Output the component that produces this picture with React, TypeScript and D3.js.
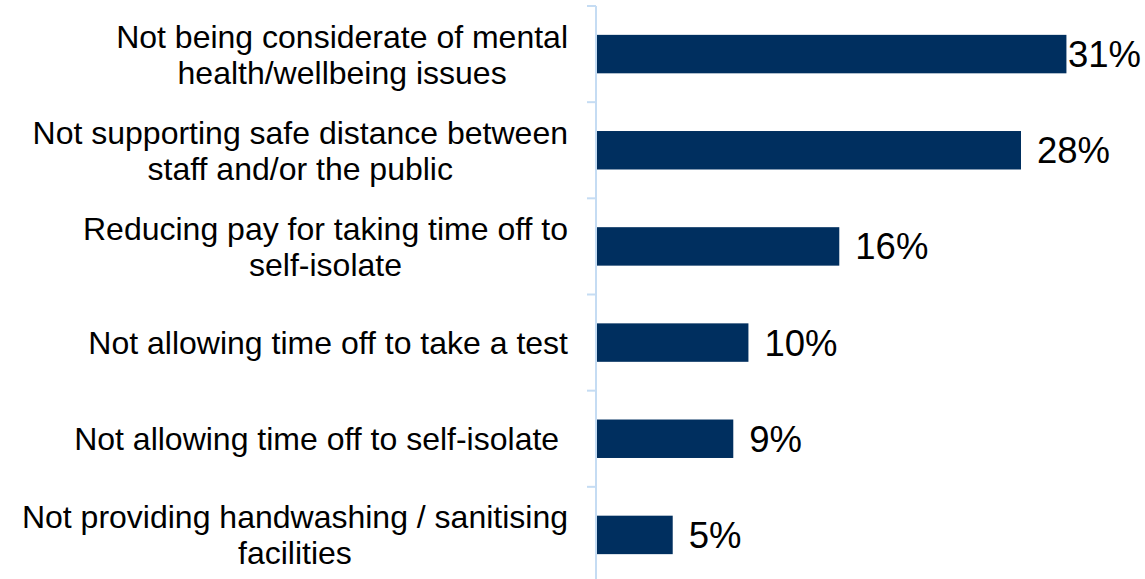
import React, { useEffect, useRef } from "react";
import * as d3 from "d3";

const categories: string[][] = [
  ["Not being considerate of mental", "health/wellbeing issues"],
  ["Not supporting safe distance between", "staff and/or the public"],
  ["Reducing pay for taking time off to", "self-isolate"],
  ["Not allowing time off to take a test"],
  ["Not allowing time off to self-isolate\u00a0"],
  ["Not providing handwashing / sanitising", "facilities"],
];
const values: number[] = [31, 28, 16, 10, 9, 5];
const valueLabels: string[] = ["31%", "28%", "16%", "10%", "9%", "5%"];

const W = 1145;
const H = 579;
const FONT = "'Liberation Sans', Arial, sans-serif";

export default function App() {
  const ref = useRef<SVGSVGElement | null>(null);

  useEffect(() => {
    const svg = d3.select(ref.current);
    svg.selectAll("*").remove();

    const axisX = 597;
    const x = d3.scaleLinear().domain([0, 35]).range([axisX, 1127]);
    const y = d3
      .scaleBand<number>()
      .domain(d3.range(values.length))
      .range([6, 583])
      .paddingInner(0.6)
      .paddingOuter(0.3);
    const step = y.step();
    const bandStart = (i: number) => 6 + i * step;

    // bars
    svg
      .append("g")
      .selectAll("rect")
      .data(values)
      .join("rect")
      .attr("x", axisX)
      .attr("y", (_d, i) => y(i)!)
      .attr("width", (d) => x(d) - axisX)
      .attr("height", y.bandwidth())
      .attr("fill", "#002f5f");

    // axis line and ticks
    const axisColor = "#c5dcf3";
    svg
      .append("line")
      .attr("x1", axisX - 1)
      .attr("x2", axisX - 1)
      .attr("y1", 6)
      .attr("y2", H)
      .attr("stroke", axisColor)
      .attr("stroke-width", 2);
    svg
      .append("g")
      .selectAll("line")
      .data(d3.range(values.length + 1))
      .join("line")
      .attr("x1", axisX - 10)
      .attr("x2", axisX - 1)
      .attr("y1", (i) => bandStart(i))
      .attr("y2", (i) => bandStart(i))
      .attr("stroke", axisColor)
      .attr("stroke-width", 2);

    // category labels
    const fs = 32;
    const lh = 36;
    const cap = 23;
    const rightEdge = 568;
    categories.forEach((lines, i) => {
      const center = y(i)! + y.bandwidth() / 2;
      const g = svg.append("g");
      const texts = lines.map((ln, j) =>
        g
          .append("text")
          .attr("font-family", FONT)
          .attr("font-size", fs)
          .attr("fill", "#000")
          .attr("text-anchor", "middle")
          .attr("y", center + cap / 2 + (j - (lines.length - 1) / 2) * lh)
          .style("white-space", "pre")
          .text(ln)
      );
      const maxW = d3.max(texts, (t) => (t.node() as SVGTextElement).getComputedTextLength()) || 0;
      texts.forEach((t) => t.attr("x", rightEdge - maxW / 2));
    });

    // value labels
    const vfs = 36.5;
    values.forEach((v, i) => {
      const center = y(i)! + y.bandwidth() / 2;
      const t = svg
        .append("text")
        .attr("font-family", FONT)
        .attr("font-size", vfs)
        .attr("fill", "#000")
        .attr("y", center + 13)
        .text(valueLabels[i]);
      const tw = (t.node() as SVGTextElement).getComputedTextLength();
      t.attr("x", Math.min(x(v) + 16, W - 4 - tw));
    });
  }, []);

  return (
    <svg
      ref={ref}
      width={W}
      height={H}
      style={{ position: "absolute", left: 0, top: 0, background: "#fff" }}
    />
  );
}
